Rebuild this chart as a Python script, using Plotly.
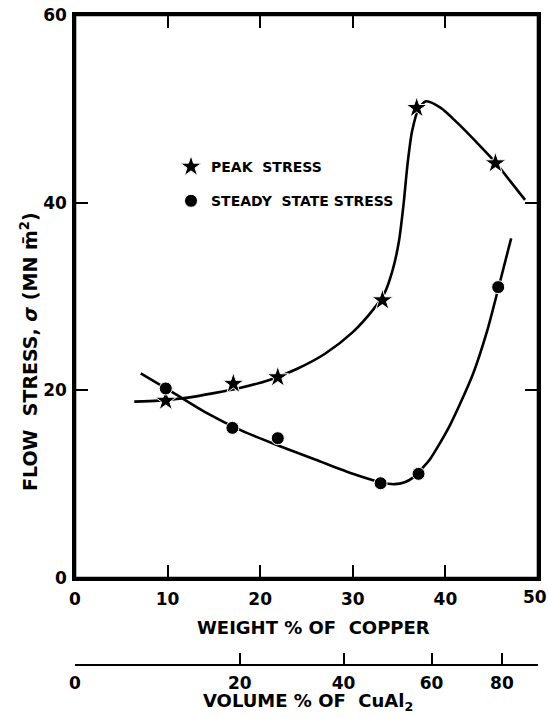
import plotly.graph_objects as go

# ---- data ----
# measured points: weight % Cu vs flow stress (MN m^-2)
peak_x = [9.8, 17.1, 21.9, 33.2, 36.9, 45.4]
peak_y = [18.9, 20.7, 21.4, 29.6, 50.1, 44.2]

steady_x = [9.8, 17.0, 21.9, 33.0, 37.1, 45.7]
steady_y = [20.2, 16.0, 14.9, 10.1, 11.1, 31.0]

# hand-drawn fitted curves
peak_curve_x = [6.4, 9.0, 12.0, 15.0, 18.0, 21.0, 24.0, 27.0, 30.0, 32.2, 33.4, 34.3, 35.0, 35.5, 35.9, 36.4, 37.1, 37.9, 39.5, 41.3, 43.5, 45.4, 47.0, 48.6]
peak_curve_y = [18.8, 18.9, 19.2, 19.7, 20.3, 21.1, 22.3, 23.9, 26.2, 28.6, 30.3, 32.8, 36.0, 40.0, 44.0, 47.6, 50.0, 50.8, 50.1, 48.5, 46.3, 44.3, 42.3, 40.3]

steady_curve_x = [7.1, 10.5, 14.0, 18.0, 22.0, 26.0, 30.0, 33.0, 34.5, 35.6, 36.5, 37.3, 38.3, 40.5, 43.0, 44.5, 45.7, 47.1]
steady_curve_y = [21.8, 19.8, 17.7, 15.7, 14.1, 12.6, 11.1, 10.2, 10.0, 10.2, 10.7, 11.5, 12.6, 16.3, 21.8, 26.3, 30.8, 36.2]

# axis ticks
wt_ticks = [0, 10, 20, 30, 40, 50]
wt_tick_text = ["0", "10", "20", "30", "40", "50"]
y_ticks = [0, 20, 40, 60]
# volume % CuAl2 scale expressed in weight % Cu positions
vol_tick_pos = [0, 17.8, 29.0, 38.5, 46.1, 50]
vol_tick_text = ["0", "20", "40", "60", "80", ""]

FONT = "DejaVu Sans"
BLACK = "#000000"

fig = go.Figure()

fig.add_trace(go.Scatter(x=peak_curve_x, y=peak_curve_y, mode="lines",
                         line=dict(color=BLACK, width=2.6, shape="spline", smoothing=0.7),
                         showlegend=False, hoverinfo="skip"))
fig.add_trace(go.Scatter(x=steady_curve_x, y=steady_curve_y, mode="lines",
                         line=dict(color=BLACK, width=2.6, shape="spline", smoothing=0.7),
                         showlegend=False, hoverinfo="skip"))

fig.add_trace(go.Scatter(x=peak_x, y=peak_y, mode="markers",
                         marker=dict(symbol="star", size=16, color=BLACK,
                                     line=dict(color="white", width=1)),
                         name="PEAK\u00a0\u00a0STRESS", legendgroup="a"))
fig.add_trace(go.Scatter(x=steady_x, y=steady_y, mode="markers",
                         marker=dict(symbol="circle", size=13, color=BLACK,
                                     line=dict(color="white", width=1)),
                         name="STEADY\u00a0\u00a0STATE STRESS", legendgroup="b"))

# invisible trace to activate the secondary (volume %) scale
fig.add_trace(go.Scatter(x=steady_x, y=steady_y, xaxis="x2", mode="markers",
                         marker=dict(opacity=0), showlegend=False, hoverinfo="skip"))

tickfont = dict(family=FONT, size=17, color=BLACK, weight="bold")

fig.update_layout(
    width=548, height=718,
    margin=dict(l=75, r=10, t=15, b=53, autoexpand=False),
    paper_bgcolor="white", plot_bgcolor="white",
    showlegend=True,
    legend=dict(x=(171 - 75) / 463, y=(665 - 151) / 650, xanchor="left", yanchor="top",
                bgcolor="rgba(0,0,0,0)", font=dict(family=FONT, size=14, color=BLACK, weight="bold"),
                traceorder="grouped", tracegroupgap=13),
    xaxis=dict(range=[0, 50], tickvals=wt_ticks[:-1], ticktext=wt_tick_text[:-1],
               showgrid=False, zeroline=False, showline=True, linecolor=BLACK, linewidth=2.6,
               mirror="ticks", ticks="inside", ticklen=13, tickwidth=2, tickcolor=BLACK,
               tickfont=tickfont, ticklabelstandoff=4, anchor="y", automargin=False),
    yaxis=dict(range=[0, 60], tickvals=y_ticks, domain=[(665 - 578) / 650, 1],
               showgrid=False, zeroline=False, showline=True, linecolor=BLACK, linewidth=2.6,
               mirror="ticks", ticks="inside", ticklen=13, tickwidth=2, tickcolor=BLACK,
               tickfont=tickfont, ticklabelstandoff=2, automargin=False),
    xaxis2=dict(range=[0, 50], overlaying="x", anchor="free", position=0, side="bottom",
                tickvals=vol_tick_pos, ticktext=vol_tick_text,
                showgrid=False, zeroline=False, showline=True, linecolor=BLACK, linewidth=2,
                ticks="inside", ticklen=11, tickwidth=2, tickcolor=BLACK,
                tickfont=tickfont, ticklabelstandoff=3, automargin=False),
)

# plot frame drawn as a shape on the axes' domain, so the box is always present
fig.add_shape(type="rect", xref="x domain", yref="y domain", x0=0, x1=1, y0=0, y1=1,
              line=dict(color=BLACK, width=2.6), fillcolor="rgba(0,0,0,0)", layer="above")

# last weight-% tick label sits at the paper edge; place it as text so it stays visible
fig.add_annotation(text=wt_tick_text[-1], xref="x", yref="paper", x=wt_ticks[-1],
                   y=(665 - 578 - 7) / 650, xshift=-3, showarrow=False,
                   xanchor="center", yanchor="top", font=tickfont)

title_font = dict(family=FONT, size=18, color=BLACK, weight="bold")
fig.add_annotation(text="WEIGHT % OF\u00a0\u00a0COPPER", xref="paper", yref="paper",
                   x=(313 - 75) / 463, y=(665 - 627) / 650, showarrow=False,
                   xanchor="center", yanchor="middle", font=title_font)
fig.add_annotation(text="VOLUME % OF\u00a0\u00a0CuAl<sub>2</sub>", xref="paper", yref="paper",
                   x=(308 - 75) / 463, y=(665 - 702) / 650, showarrow=False,
                   xanchor="center", yanchor="middle", font=title_font)
fig.add_annotation(text="FLOW\u00a0\u00a0STRESS, <i>σ</i>\u00a0(MN m\u0304<sup>2</sup>)", xref="paper", yref="paper",
                   x=(29 - 75) / 463, y=(665 - 352) / 650, showarrow=False, textangle=-90,
                   xanchor="center", yanchor="middle",
                   font=dict(family=FONT, size=19, color=BLACK, weight="bold"))

# remove the default page margin so the figure sits at the window's top-left corner
fig.write_html("out.html", config={"displayModeBar": False},
               post_script="document.body.style.margin='0px';")
